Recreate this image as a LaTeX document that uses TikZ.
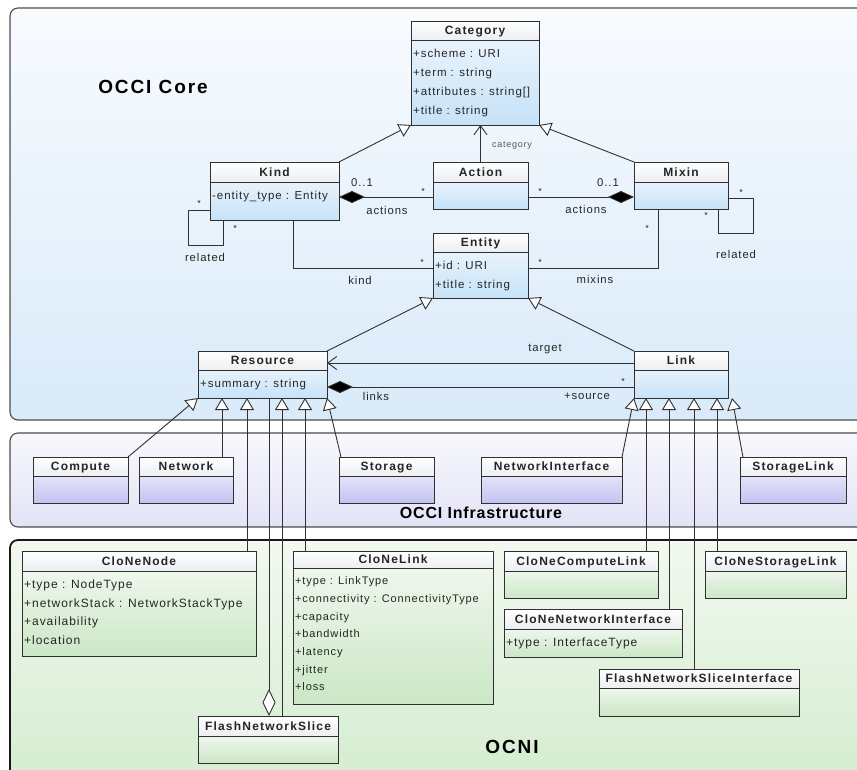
\documentclass[tikz,border=0pt]{standalone}
\usepackage{fontspec}
\setmainfont{Liberation Sans}[LetterSpace=8]
\newfontfamily\clsfont{Liberation Sans}[LetterSpace=10]
\newfontfamily\pkgfont{Liberation Sans}[LetterSpace=10]
\newfontfamily\pkgfontn{Liberation Sans}[LetterSpace=5]
\usetikzlibrary{arrows.meta}

% panel backgrounds
\definecolor{coreT}{HTML}{F8FBFE}
\definecolor{coreB}{HTML}{D9EAF9}
\definecolor{infT}{HTML}{F8F8FE}
\definecolor{infB}{HTML}{E3E3F7}
\definecolor{ocniT}{HTML}{F2F9F0}
\definecolor{ocniB}{HTML}{D2ECCE}
% class compartments
\definecolor{clsCoreT}{HTML}{E8F3FC}
\definecolor{clsCoreB}{HTML}{C6E2F8}
\definecolor{clsInfT}{HTML}{E3E3FA}
\definecolor{clsInfB}{HTML}{C3C3F2}
\definecolor{clsOcniT}{HTML}{EEF7EC}
\definecolor{clsOcniB}{HTML}{CBE7C6}
\definecolor{headT}{HTML}{FFFFFF}
\definecolor{headB}{HTML}{ECEEF1}
\definecolor{lc}{HTML}{303030}
\definecolor{txt}{HTML}{262626}

% UML class box: [attribute style]{name}{body shading}{x,y}{width}{height}{header height}{title}{attributes}
\newcommand{\umlclass}[9][]{%
  \node[clsbox, minimum width=#5pt, minimum height=#6pt] (#2) at (#4) {};
  \shade[#3] ([yshift=-#7pt]#2.north west) rectangle (#2.south east);
  \shade[headshade] (#2.north west) rectangle ([yshift=-#7pt]#2.north east);
  \draw[clsline] (#2.north west) rectangle (#2.south east);
  \draw[clsline] ([yshift=-#7pt]#2.north west) -- ([yshift=-#7pt]#2.north east);
  \node[clstitle] (#2-t) at ([yshift={-0.5*#7pt}]#2.north) {#8};
  \node[clsattr, #1] (#2-a) at ([xshift=2pt, yshift={-#7pt-4pt}]#2.north west) {\strut #9};
}

\begin{document}
\begin{tikzpicture}[x=1pt, y=-1pt,
  clsbox/.style={anchor=north west, inner sep=0pt, outer sep=0pt, draw=none},
  clsline/.style={draw=lc, line width=0.9pt},
  headshade/.style={top color=headT, bottom color=headB},
  coreshade/.style={top color=clsCoreT, bottom color=clsCoreB},
  infshade/.style={top color=clsInfT, bottom color=clsInfB},
  ocnishade/.style={top color=clsOcniT, bottom color=clsOcniB},
  clstitle/.style={font=\clsfont\bfseries\fontsize{12}{14}\selectfont, text=txt,
    inner sep=0pt, text height=8.6pt, text depth=0pt},
  clsattr/.style={anchor=north west, inner sep=0pt, align=left, text=txt,
    font=\fontsize{11.5}{19}\selectfont},
  big/.style={font=\fontsize{12}{18.7}\selectfont},
  small/.style={font=\fontsize{11}{17.7}\selectfont},
  pkgtitle/.style={font=\pkgfont\bfseries\fontsize{19}{22}\selectfont, text=black, inner sep=0pt},
  lbl/.style={font=\fontsize{11.3}{13}\selectfont, text=txt, inner sep=0pt},
  star/.style={font=\fontsize{9}{10}\selectfont, text=txt, inner sep=0pt},
  catlbl/.style={font=\fontsize{9}{10}\selectfont, text=black!65, inner sep=0pt},
  assoc/.style={draw=lc, line width=0.9pt},
  gen/.style={assoc, -{Triangle[length=12pt, width=14pt, fill=white]}},
  nav/.style={assoc, -{Straight Barb[length=9pt, width=13pt]}},
  comp/.style={assoc, {Diamond[length=26pt, width=12pt, fill=black]}-},
  agg/.style={assoc, {Diamond[length=27pt, width=13pt, fill=white]}-},
  panel/.style={rounded corners=8pt}
]
\useasboundingbox (0,0) rectangle (857,769);
\fill[white] (0,0) rectangle (857,769);
\clip (0,0) rectangle (857,769);

% packages
\shadedraw[panel, top color=coreT, bottom color=coreB, draw=black!70, line width=1.1pt]
  (10,8) rectangle (880,420);
\shadedraw[panel, top color=infT, bottom color=infB, draw=black!70, line width=1.1pt]
  (10,433) rectangle (880,527);
\shadedraw[panel, top color=ocniT, bottom color=ocniB, draw=black!90, line width=1.8pt]
  (10,540) rectangle (880,800);

\node[pkgtitle] (core-title) at (153,87) {OCCI Core};
\node[pkgtitle, font=\pkgfontn\bfseries\fontsize{16}{19}\selectfont] (infra-title) at (481,513) {OCCI Infrastructure};
\node[pkgtitle] (ocni-title) at (512,747) {OCNI};

% OCCI Core
\umlclass{Category}{coreshade}{411,21}{128}{104}{19}{Category}{+scheme : URI\\+term : string\\+attributes : string[]\\+title : string}
\umlclass{Kind}{coreshade}{210,162}{129}{58}{20}{Kind}{-entity\_type : Entity}
\umlclass{Action}{coreshade}{433,162}{95}{47}{20}{Action}{}
\umlclass{Mixin}{coreshade}{634,162}{94}{47}{20}{Mixin}{}
\umlclass{Entity}{coreshade}{433,233}{95}{65}{19}{Entity}{+id : URI\\+title : string}
\umlclass{Resource}{coreshade}{198,351}{129}{47}{19}{Resource}{+summary : string}
\umlclass{Link}{coreshade}{634,351}{94}{47}{19}{Link}{}

% OCCI Infrastructure
\umlclass{Compute}{infshade}{33,457}{95}{46}{19}{Compute}{}
\umlclass{Network}{infshade}{139,457}{94}{46}{19}{Network}{}
\umlclass{Storage}{infshade}{339,457}{95}{46}{19}{Storage}{}
\umlclass{NetworkInterface}{infshade}{481,457}{141}{46}{19}{NetworkInterface}{}
\umlclass{StorageLink}{infshade}{740,457}{106}{46}{19}{StorageLink}{}

% OCNI
\umlclass[big]{CloNeNode}{ocnishade}{22,551}{234}{105}{20}{CloNeNode}{+type : NodeType\\+networkStack : NetworkStackType\\+availability\\+location}
\umlclass[small]{CloNeLink}{ocnishade}{293,551}{200}{153}{17}{CloNeLink}{+type : LinkType\\+connectivity : ConnectivityType\\+capacity\\+bandwidth\\+latency\\+jitter\\+loss}
\umlclass{CloNeComputeLink}{ocnishade}{504,551}{154}{47}{20}{CloNeComputeLink}{}
\umlclass{CloNeStorageLink}{ocnishade}{705,551}{141}{47}{20}{CloNeStorageLink}{}
\umlclass[big]{CloNeNetworkInterface}{ocnishade}{504,609}{178}{48}{20}{CloNeNetworkInterface}{+type : InterfaceType}
\umlclass{FlashNetworkSliceInterface}{ocnishade}{599,669}{200}{47}{19}{FlashNetworkSliceInterface}{}
\umlclass{FlashNetworkSlice}{ocnishade}{198,716}{140}{47}{20}{FlashNetworkSlice}{}

% core relations
\draw[gen] (Kind.north east) -- (Category.south west);
\draw[gen] (Mixin.north west) -- (Category.south east);
\draw[nav] (Action.north) -- (Action.north |- Category.south);
\coordinate (ka) at ([yshift=12pt]Action.south west);
\draw[comp] (Kind.east |- ka) -- (ka);
\coordinate (am) at ([yshift=12pt]Action.south east);
\draw[comp] (Mixin.west |- am) -- (am);
\draw[assoc] ([yshift=10pt]Kind.south west) -- ++(-22,0) -- ++(0,35) -- ++(35,0) -- ([xshift=13pt]Kind.south west);
\draw[assoc] ([yshift=11pt]Mixin.south east) -- ++(25,0) -- ++(0,35) -- ++(-35,0) -- ([xshift=-10pt]Mixin.south east);
\coordinate (ke) at ([yshift=-35pt]Entity.north west);
\draw[assoc] ([xshift=83pt]Kind.south west) |- (ke);
\coordinate (me) at ([yshift=-35pt]Entity.north east);
\draw[assoc] ([xshift=24pt]Mixin.south west) |- (me);
\draw[gen] (Resource.north east) -- (Entity.south west);
\draw[gen] (Link.north west) -- (Entity.south east);
\coordinate (lt) at ([yshift=-12pt]Link.north west);
\draw[nav] (lt) -- (Resource.east |- lt);
\coordinate (ls) at ([yshift=11pt]Link.south west);
\draw[comp] (Resource.east |- ls) -- (ls);

% infrastructure specialisations
\draw[gen] (Compute.north east) -- (Resource.south west);
\coordinate (rN) at ([xshift=24pt]Resource.south west);
\draw[gen] (Network.north -| rN) -- (rN);
\draw[gen] ([xshift=2pt]Storage.north west) -- (Resource.south east);
\draw[gen] (NetworkInterface.north east) -- (Link.south west);
\draw[gen] ([xshift=3pt]StorageLink.north west) -- ([xshift=4pt]Link.south east);

% OCNI specialisations
\coordinate (rC) at ([xshift=49pt]Resource.south west);
\draw[gen] (CloNeNode.north -| rC) -- (rC);
\coordinate (rA) at ([xshift=71pt]Resource.south west);
\draw[agg] (FlashNetworkSlice.north -| rA) -- (rA);
\coordinate (rF) at ([xshift=84pt]Resource.south west);
\draw[gen] (FlashNetworkSlice.north -| rF) -- (rF);
\coordinate (rL) at ([xshift=107pt]Resource.south west);
\draw[gen] (CloNeLink.north -| rL) -- (rL);
\coordinate (kC) at ([xshift=12pt]Link.south west);
\draw[gen] (CloNeComputeLink.north -| kC) -- (kC);
\coordinate (kN) at ([xshift=35pt]Link.south west);
\draw[gen] (CloNeNetworkInterface.north -| kN) -- (kN);
\coordinate (kF) at ([xshift=60pt]Link.south west);
\draw[gen] (FlashNetworkSliceInterface.north -| kF) -- (kF);
\coordinate (kS) at ([xshift=83pt]Link.south west);
\draw[gen] (CloNeStorageLink.north -| kS) -- (kS);

% role names and multiplicities
\node[lbl] (m1) at (362,183) {0..1};
\node[lbl] (m2) at (387,210) {actions};
\node[star] (m3) at (423,191) {*};
\node[lbl] (m4) at (608,183) {0..1};
\node[lbl] (m5) at (586,209) {actions};
\node[star] (m6) at (540,191) {*};
\node[catlbl] (m7) at (512,146) {category};
\node[star] (m8) at (199,203) {*};
\node[star] (m9) at (235,228) {*};
\node[lbl] (m10) at (205,257) {related};
\node[star] (m11) at (422,262) {*};
\node[lbl] (m12) at (360,280) {kind};
\node[star] (m13) at (540,262) {*};
\node[star] (m14) at (647,228) {*};
\node[lbl] (m15) at (595,279) {mixins};
\node[star] (m16) at (741,192) {*};
\node[star] (m17) at (706,215) {*};
\node[lbl] (m18) at (736,254) {related};
\node[lbl] (m19) at (545,349) {target};
\node[star] (m20) at (623,381) {*};
\node[lbl] (m21) at (587,396) {+source};
\node[lbl] (m22) at (376,396) {links};
\end{tikzpicture}
\end{document}
